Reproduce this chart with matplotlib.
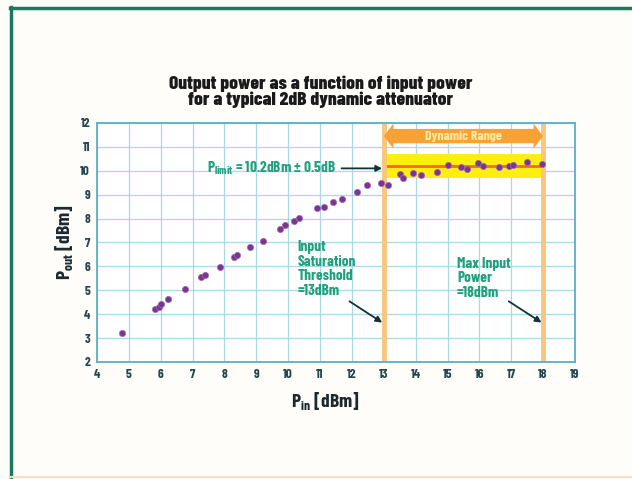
import matplotlib
matplotlib.use('Agg')
from matplotlib import pyplot as plt
from matplotlib.patches import FancyArrow
from matplotlib.lines import Line2D

plt.rcParams['font.family'] = ['Barlow Condensed', 'DejaVu Sans']
plt.rcParams['font.weight'] = 'bold'
plt.rcParams['mathtext.fontset'] = 'custom'
plt.rcParams['mathtext.rm'] = 'Barlow Condensed:bold'
plt.rcParams['mathtext.bf'] = 'Barlow Condensed:bold'

# measured points (input dBm, output dBm)
p_in = [4.78, 5.82, 5.93, 6.00, 6.24, 6.77, 7.27, 7.40, 7.85, 8.29, 8.39, 8.81,
        9.21, 9.73, 9.91, 10.19, 10.33, 10.91, 11.12, 11.41, 11.69, 12.17, 12.46,
        12.92, 13.14, 13.51, 13.60, 13.93, 14.18, 14.66, 15.00, 15.42, 15.60,
        15.96, 16.10, 16.62, 16.93, 17.04, 17.49, 17.98]
p_out = [3.23, 4.20, 4.31, 4.41, 4.62, 5.04, 5.54, 5.65, 5.99, 6.41, 6.49, 6.80,
         7.08, 7.56, 7.73, 7.90, 8.01, 8.46, 8.49, 8.68, 8.81, 9.10, 9.41,
         9.50, 9.42, 9.85, 9.68, 9.89, 9.81, 9.96, 10.24, 10.14, 10.06,
         10.31, 10.20, 10.16, 10.20, 10.24, 10.36, 10.28]

x_ticks = list(range(4, 20))
y_ticks = list(range(2, 13))

sat_in = 13
max_in = 18
p_limit = 10.2
p_tol = 0.5

green = '#1fa07e'
grid_col = '#a9d8e6'
spine_col = '#5aaec8'
tick_col = '#24474f'

fig = plt.figure(figsize=(6.32, 4.79), dpi=100, facecolor='#fffdf9')

# page frame
fig.add_artist(Line2D([0.016, 1.0], [0.983, 0.983], color='#1b7a5c', lw=2.5))
fig.add_artist(Line2D([0.018, 0.018], [0.0, 0.985], color='#1b7a5c', lw=2.5))
fig.add_artist(Line2D([0.018, 1.0], [0.004, 0.004], color='#f8dcc4', lw=1.5))

ax = fig.add_axes([0.1535, 0.2443, 0.7563, 0.499])
ax.set_facecolor('white')
ax.set_xlim(4, 19)
ax.set_ylim(2, 12)
ax.set_xticks(x_ticks)
ax.set_yticks(y_ticks)
ax.grid(True, color=grid_col, lw=0.9, zorder=0)
ax.set_axisbelow(True)
for s in ax.spines.values():
    s.set_color(spine_col)
    s.set_linewidth(1.3)
ax.tick_params(length=0, pad=5, labelsize=9.5, colors=tick_col)

# tolerance band and limit line
ax.fill_between([sat_in, max_in], p_limit - p_tol, p_limit + p_tol,
                color='#ffee10', lw=0, zorder=1)
ax.plot([sat_in, max_in], [p_limit, p_limit], color='#f26a1c', lw=2, zorder=2)

# threshold lines
ax.axvline(sat_in, color='#f6c77c', lw=3.5, zorder=2)
ax.axvline(max_in, color='#f6c77c', lw=3.5, zorder=2)

# dynamic range double arrow
mid = (sat_in + max_in) / 2
for end in (sat_in, max_in):
    ax.add_patch(FancyArrow(mid, 11.45, end - mid, 0, width=0.6, head_width=1.05,
                            head_length=0.3, length_includes_head=True,
                            color='#f6a236', lw=0, zorder=3))
ax.text(mid, 11.45, 'Dynamic Range', color='#ffe9a8', fontsize=10,
        ha='center', va='center', zorder=4)

ax.plot(p_in, p_out, 'o', color='#74388e', ms=4.5, mec='#a866b4', mew=0.5, zorder=5)

arrow_kw = dict(arrowstyle='-|>', color='#14323a', lw=1.3, mutation_scale=9,
                shrinkA=2, shrinkB=0)

ax.annotate(r'P$_{\mathrm{limit}}$ = 10.2dBm ± 0.5dB', xy=(12.95, 10.1),
            xytext=(11.5, 10.1), ha='right', va='center', color=green,
            fontsize=11, arrowprops=arrow_kw, zorder=6)

ax.text(10.3, 7.1, 'Input\nSaturation\nThreshold\n=13dBm', color=green,
        fontsize=11, ha='left', va='top', linespacing=1.05)
ax.annotate('', xy=(12.95, 3.65), xytext=(11.85, 4.6), arrowprops=arrow_kw)

ax.text(15.3, 6.4, 'Max Input\nPower\n=18dBm', color=green,
        fontsize=11, ha='left', va='top', linespacing=1.05)
ax.annotate('', xy=(17.95, 3.65), xytext=(16.85, 4.6), arrowprops=arrow_kw)

fig.text(0.508, 0.809, 'Output power as a function of input power\nfor a typical 2dB dynamic attenuator',
         ha='center', va='center', fontsize=14, fontweight='heavy', color='#1a1a1a',
         linespacing=0.95)
fig.text(0.514, 0.161, r'P$_{\mathrm{in}}$ [dBm]', ha='center', va='center',
         fontsize=14, color='#1a2a30')
fig.text(0.103, 0.495, r'P$_{\mathrm{out}}$ [dBm]', ha='center', va='center',
         rotation=90, fontsize=14, color='#1a2a30')

fig.savefig('out.png', dpi=100, facecolor=fig.get_facecolor())
